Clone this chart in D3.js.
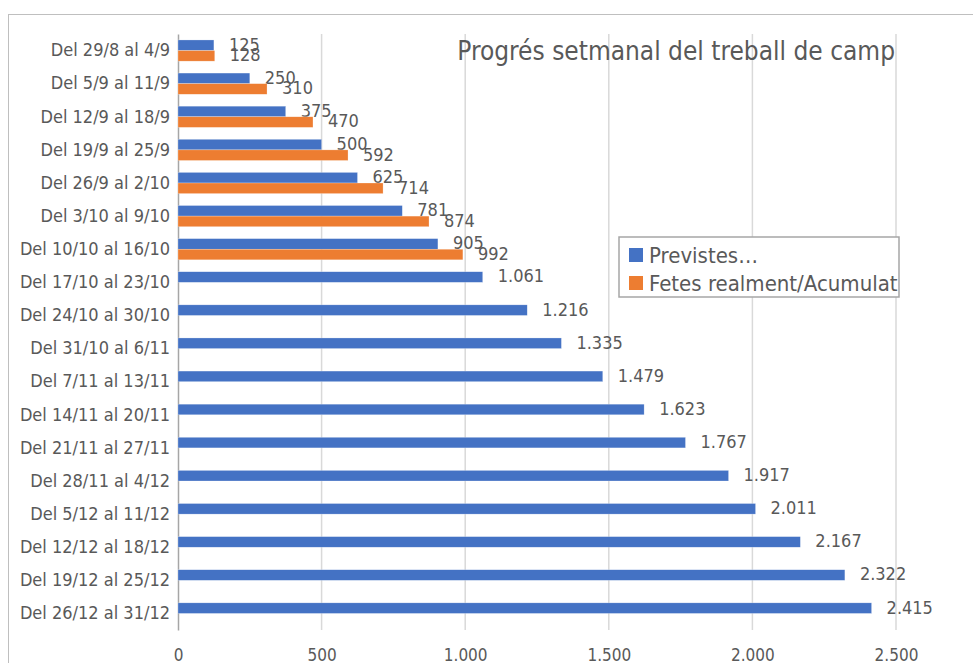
<!DOCTYPE html>
<html>
<head>
<meta charset="utf-8">
<script src="https://cdn.jsdelivr.net/npm/d3@7"></script>
<style>
  body { margin: 0; background: #fff; }
  text { font-family: "Liberation Sans Narrow", "DejaVu Sans Condensed", sans-serif; fill: #595959; }
</style>
</head>
<body>
<div id="chart-area"></div>
<script>
var categories = ["Del 29/8 al 4/9", "Del 5/9 al 11/9", "Del 12/9 al 18/9", "Del 19/9 al 25/9",
                  "Del 26/9 al 2/10", "Del 3/10 al 9/10", "Del 10/10 al 16/10", "Del 17/10 al 23/10",
                  "Del 24/10 al 30/10", "Del 31/10 al 6/11", "Del 7/11 al 13/11", "Del 14/11 al 20/11",
                  "Del 21/11 al 27/11", "Del 28/11 al 4/12", "Del 5/12 al 11/12", "Del 12/12 al 18/12",
                  "Del 19/12 al 25/12", "Del 26/12 al 31/12"];

var previstes = [125, 250, 375, 500, 625, 781, 905, 1061, 1216, 1335, 1479, 1623, 1767, 1917, 2011, 2167, 2322, 2415];
var fetes = [128, 310, 470, 592, 714, 874, 992];

var seriesNames = ["Previstes…", "Fetes realment/Acumulat"];
var xTicks = [0, 500, 1000, 1500, 2000, 2500];
var title = "Progrés setmanal del treball de camp";

var width = 973, height = 663;
var margin = { left: 178, right: 77, top: 34, bottom: 33 };

var svg = d3.select("#chart-area").append("svg")
    .attr("width", width)
    .attr("height", height);

var fmt = d3.formatLocale({ decimal: ",", thousands: ".", grouping: [3], currency: ["", "€"] }).format(",d");

var color = d3.scaleOrdinal().domain(seriesNames).range(["#4472C4", "#ED7D31"]);

// chart frame
svg.append("rect")
    .attr("x", 8.5).attr("y", 14.5)
    .attr("width", 1000).attr("height", 700)
    .attr("fill", "none")
    .attr("stroke", "#bfbfbf");

var x = d3.scaleLinear().domain([0, 2500]).range([margin.left, width - margin.right]);
var y = d3.scaleBand().domain(categories)
    .range([margin.top, height - margin.bottom])
    .paddingInner(0.36).paddingOuter(0.18);
var ySub = d3.scaleBand().domain([0, 1]).range([0, y.bandwidth()]);

// gridlines
svg.append("g").selectAll("line")
    .data(xTicks.slice(1))
    .enter().append("line")
    .attr("x1", function(d) { return x(d); })
    .attr("x2", function(d) { return x(d); })
    .attr("y1", margin.top).attr("y2", height - margin.bottom)
    .attr("stroke", "#d9d9d9").attr("stroke-width", 1.5);

// x axis labels
var xAxis = svg.append("g")
    .attr("transform", "translate(0," + (height - margin.bottom) + ")")
    .call(d3.axisBottom(x).tickValues(xTicks).tickFormat(fmt).tickSize(0).tickPadding(19));
xAxis.select(".domain").remove();
xAxis.selectAll("text")
    .attr("font-family", null)
    .attr("font-size", 17)
    .attr("fill", "#595959");

// y axis
var yAxis = svg.append("g")
    .attr("transform", "translate(" + margin.left + ",0)")
    .call(d3.axisLeft(y).tickSize(0).tickPadding(8));
yAxis.select(".domain").attr("stroke", "#a6a6a6").attr("stroke-width", 1.5);
yAxis.selectAll("text")
    .attr("font-family", null)
    .attr("font-size", 18)
    .attr("fill", "#595959");

var series = [previstes, fetes];

series.forEach(function(values, s) {
    var g = svg.append("g");
    g.selectAll("rect")
        .data(values)
        .enter().append("rect")
        .attr("x", x(0))
        .attr("y", function(d, i) { return y(categories[i]) + ySub(s); })
        .attr("width", function(d) { return x(d) - x(0); })
        .attr("height", ySub.bandwidth())
        .attr("fill", color(seriesNames[s]))
        .attr("stroke", "#fff").attr("stroke-opacity", 0.5).attr("stroke-width", 0.5);

    g.selectAll("text")
        .data(values)
        .enter().append("text")
        .attr("x", function(d) { return x(d) + 15; })
        .attr("y", function(d, i) { return y(categories[i]) + ySub(s) + ySub.bandwidth() / 2; })
        .attr("dy", "0.3em")
        .attr("font-size", 18)
        .text(function(d) { return fmt(d); });
});

// title
svg.append("text")
    .attr("x", 895).attr("y", 60)
    .attr("text-anchor", "end")
    .attr("font-size", 26)
    .text(title);

// legend
var legend = svg.append("g").attr("transform", "translate(619,237)");
legend.append("rect")
    .attr("width", 280).attr("height", 60)
    .attr("fill", "#fff")
    .attr("stroke", "#a6a6a6").attr("stroke-width", 1.5);

seriesNames.forEach(function(name, i) {
    var row = legend.append("g").attr("transform", "translate(10," + (11 + i * 28) + ")");
    row.append("rect")
        .attr("width", 14).attr("height", 14)
        .attr("fill", color(name));
    row.append("text")
        .attr("x", 20).attr("y", 7)
        .attr("dy", "0.36em")
        .attr("font-size", 22)
        .text(name);
});
</script>
</body>
</html>
